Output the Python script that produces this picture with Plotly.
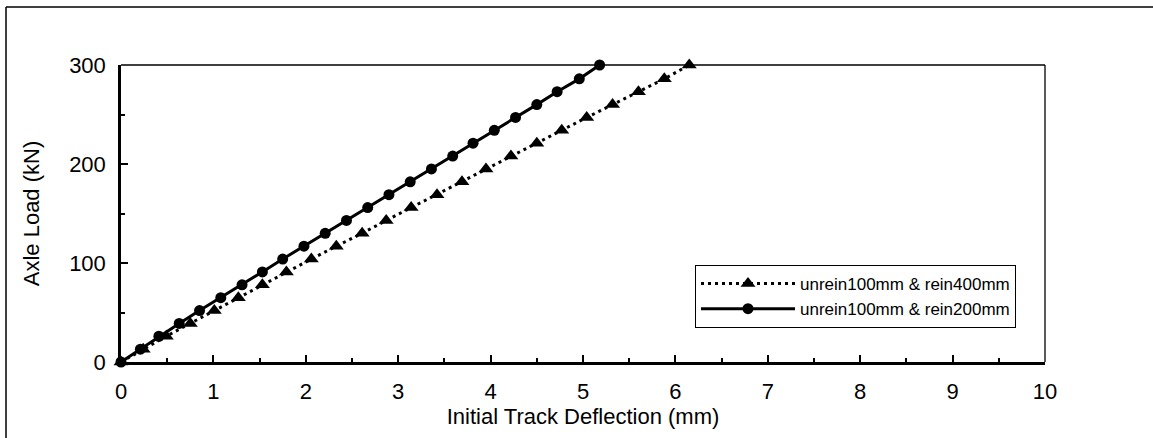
import plotly.graph_objects as go

# Axle load (kN) levels shared by both series
axle_load = [0, 13, 26, 39, 52, 65, 78, 91, 104, 117, 130, 143, 156, 169,
             182, 195, 208, 221, 234, 247, 260, 273, 286, 300]

# Initial track deflection (mm)
defl_rein400 = [0, 0.24, 0.49, 0.75, 1.01, 1.27, 1.53, 1.79, 2.06, 2.33, 2.61, 2.87,
                3.14, 3.42, 3.69, 3.95, 4.22, 4.50, 4.77, 5.04, 5.32, 5.60, 5.88, 6.15]
defl_rein200 = [0, 0.21, 0.41, 0.63, 0.85, 1.08, 1.31, 1.53, 1.75, 1.98, 2.21, 2.44,
                2.67, 2.90, 3.13, 3.36, 3.59, 3.81, 4.04, 4.27, 4.50, 4.72, 4.96, 5.18]

series_names = ["unrein100mm & rein400mm", "unrein100mm & rein200mm"]
x_ticks = [0, 1, 2, 3, 4, 5, 6, 7, 8, 9, 10]
y_ticks = [0, 100, 200, 300]

FONT = "Liberation Sans, Arial, sans-serif"

fig = go.Figure()
fig.add_trace(go.Scatter(
    x=defl_rein400, y=axle_load, name=series_names[0], mode="lines+markers",
    line=dict(color="black", width=3, dash="3px,4px"),
    marker=dict(symbol="triangle-up", size=13, color="black"),
    cliponaxis=False,
))
fig.add_trace(go.Scatter(
    x=defl_rein200, y=axle_load, name=series_names[1], mode="lines+markers",
    line=dict(color="black", width=3),
    marker=dict(symbol="circle", size=11, color="black"),
    cliponaxis=False,
))

W, H = 1153, 438
L, R, T, B = 121, 1045, 65, 362
fig.update_layout(
    width=W, height=H,
    margin=dict(l=L, r=W - R, t=T, b=H - B),
    paper_bgcolor="white", plot_bgcolor="white",
    font=dict(family=FONT, color="black", size=22),
    showlegend=True,
    legend=dict(
        x=(695 - L) / (R - L), y=(B - 265) / (B - T),
        xanchor="left", yanchor="top",
        bordercolor="black", borderwidth=1, bgcolor="white",
        font=dict(family=FONT, size=17, color="black"),
        itemwidth=94, tracegroupgap=0,
    ),
)
fig.update_xaxes(
    range=[0, 10], tickvals=x_ticks, ticktext=[str(v) for v in x_ticks],
    showgrid=False, zeroline=False,
    showline=True, linecolor="black", linewidth=2.5,
    ticks="inside", ticklen=7, tickwidth=2, tickcolor="black",
    minor=dict(dtick=0.5, ticks="inside", ticklen=4, tickwidth=1.5, tickcolor="black"),
    ticklabelstandoff=8,
    tickfont=dict(size=22),
    title=dict(text="Initial Track Deflection (mm)", font=dict(size=22), standoff=2),
)
fig.update_yaxes(
    range=[0, 300], tickvals=y_ticks, ticktext=[str(v) for v in y_ticks],
    showgrid=False, zeroline=False,
    showline=True, linecolor="black", linewidth=2.5,
    ticks="inside", ticklen=7, tickwidth=2, tickcolor="black",
    minor=dict(dtick=50, ticks="inside", ticklen=4, tickwidth=1.5, tickcolor="black"),
    ticklabelstandoff=8,
    tickfont=dict(size=22),
    title=dict(text="Axle Load (kN)", font=dict(size=22), standoff=24),
)

# thin frame on top and right of plot area
fig.add_shape(type="line", xref="x domain", yref="y domain", x0=0, x1=1, y0=1, y1=1,
              line=dict(color="black", width=1.3))
fig.add_shape(type="line", xref="x domain", yref="y domain", x0=1, x1=1, y0=0, y1=1,
              line=dict(color="black", width=1.3))

# outer chart border (left and top visible)
px = lambda p: (p - L) / (R - L)
py = lambda p: (B - p) / (B - T)
fig.add_shape(type="line", xref="paper", yref="paper", x0=px(6), x1=px(6), y0=py(440), y1=py(7),
              line=dict(color="black", width=1.5))
fig.add_shape(type="line", xref="paper", yref="paper", x0=px(6), x1=px(1160), y0=py(7), y1=py(7),
              line=dict(color="black", width=1.5))

fig.write_html("out.html")
